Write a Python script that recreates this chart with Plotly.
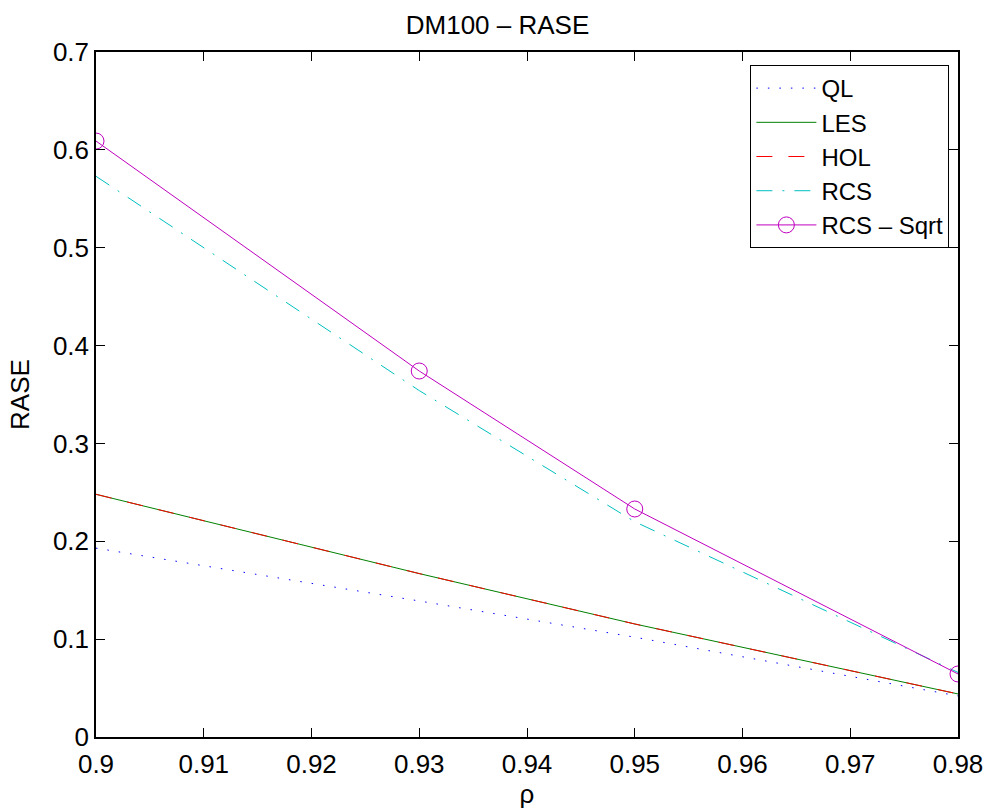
import plotly.graph_objects as go

rho = [0.90, 0.93, 0.95, 0.98]
ql = [0.193, 0.139, 0.102, 0.042]
les = [0.248, 0.167, 0.1155, 0.044]
hol = [0.248, 0.167, 0.1155, 0.044]
rcs = [0.573, 0.354, 0.220, 0.066]
rcs_sqrt = [0.609, 0.374, 0.233, 0.0644]

x_ticks = [0.9, 0.91, 0.92, 0.93, 0.94, 0.95, 0.96, 0.97, 0.98]
x_tick_text = ["0.9", "0.91", "0.92", "0.93", "0.94", "0.95", "0.96", "0.97", "0.98"]
y_ticks = [0, 0.1, 0.2, 0.3, 0.4, 0.5, 0.6, 0.7]
y_tick_text = ["0", "0.1", "0.2", "0.3", "0.4", "0.5", "0.6", "0.7"]

FONT = "Liberation Sans, Arial, Helvetica, sans-serif"
FS = 26

fig = go.Figure()
fig.add_trace(go.Scatter(x=rho, y=ql, mode="lines", name="QL",
                         line=dict(color="#0000ff", width=1, dash="1.5px,10px")))
fig.add_trace(go.Scatter(x=rho, y=les, mode="lines", name="LES",
                         line=dict(color="#008000", width=1)))
fig.add_trace(go.Scatter(x=rho, y=hol, mode="lines", name="HOL",
                         line=dict(color="#ff0000", width=1, dash="16px,16px")))
fig.add_trace(go.Scatter(x=rho, y=rcs, mode="lines", name="RCS",
                         line=dict(color="#00bfbf", width=1, dash="16px,10px,2px,10px")))
fig.add_trace(go.Scatter(x=rho, y=rcs_sqrt, mode="lines+markers", name="RCS \u2013 Sqrt",
                         line=dict(color="#bf00bf", width=1),
                         marker=dict(symbol="circle-open", size=16,
                                     color="#bf00bf", line=dict(width=1, color="#bf00bf"))))

axis_common = dict(
    showgrid=False, zeroline=False, showline=True, linecolor="black", linewidth=1.5,
    mirror="ticks", ticks="inside", ticklen=9, tickwidth=1, tickcolor="black",
    tickfont=dict(family=FONT, size=FS, color="black"),
)

fig.update_layout(
    width=995, height=811,
    paper_bgcolor="white", plot_bgcolor="white",
    margin=dict(l=96, r=32, t=52, b=74),
    title=dict(text="DM100 \u2013 RASE", x=0.5, xanchor="center", y=0.969, yanchor="middle",
               font=dict(family=FONT, size=FS, color="black")),
    xaxis=dict(range=[0.9, 0.98], tickvals=x_ticks, ticktext=x_tick_text,
               ticklabelstandoff=3,
               title=dict(text="\u03c1", font=dict(family=FONT, size=FS, color="black"), standoff=0),
               **axis_common),
    yaxis=dict(range=[0, 0.7], tickvals=y_ticks, ticktext=y_tick_text,
               title=dict(text="RASE", font=dict(family=FONT, size=FS, color="black"), standoff=16),
               **axis_common),
    legend=dict(x=0.99, xanchor="right", y=0.981, yanchor="top",
                bgcolor="white", bordercolor="black", borderwidth=1,
                font=dict(family=FONT, size=24, color="black"),
                tracegroupgap=0, itemwidth=60),
    showlegend=True,
)

fig.write_html("out.html")
